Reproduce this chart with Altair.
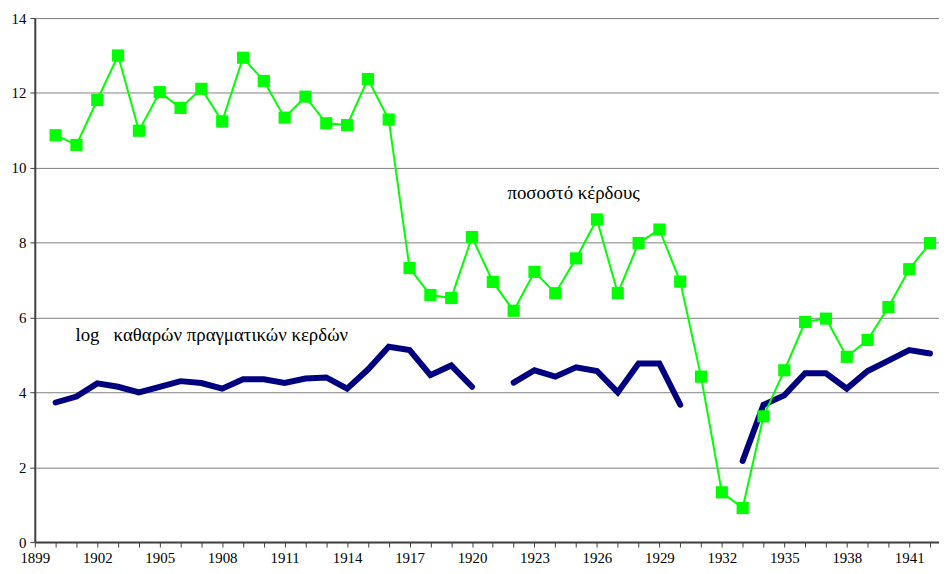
import altair as alt
import pandas as pd

years = list(range(1900, 1943))

profit_rate = [10.87, 10.61, 11.81, 13.0, 10.99, 12.02, 11.6, 12.11, 11.24, 12.94,
               12.32, 11.34, 11.9, 11.19, 11.14, 12.37, 11.29, 7.32, 6.6, 6.52,
               8.15, 6.95, 6.18, 7.22, 6.65, 7.58, 8.62, 6.65, 7.99, 8.35,
               6.96, 4.42, 1.33, 0.91, 3.36, 4.59, 5.88, 5.97, 4.95, 5.40,
               6.28, 7.29, 7.99]

log_profits = [3.73, 3.89, 4.24, 4.15, 4.0, 4.15, 4.30, 4.25, 4.10, 4.35,
               4.35, 4.25, 4.37, 4.40, 4.10, 4.61, 5.22, 5.13, 4.46, 4.72,
               4.15, None, 4.26, 4.59, 4.42, 4.67, 4.57, 4.0, 4.77, 4.77,
               3.67, None, None, 2.17, 3.67, 3.92, 4.51, 4.51, 4.10, 4.57,
               4.85, 5.13, 5.04]

label_texts = ["ποσοστό κέρδους", "log\u00a0\u00a0 καθαρών πραγματικών κερδών"]
label_x = [1921.7, 1900.95]
label_y = [9.33, 5.54]

tick_years = list(range(1899, 1943))
label_years = list(range(1899, 1943, 3))
y_ticks = [0, 2, 4, 6, 8, 10, 12, 14]

# segment ids for the blue series (breaks at missing values)
seg_rows = []
seg = 0
prev_missing = False
for yr, v in zip(years, log_profits):
    if v is None:
        prev_missing = True
        continue
    if prev_missing:
        seg += 1
        prev_missing = False
    seg_rows.append({"year": yr, "value": v, "seg": seg})
blue_df = pd.DataFrame(seg_rows)
green_df = pd.DataFrame({"year": years, "value": profit_rate})
text_df = pd.DataFrame({"x": label_x, "y": label_y, "t": label_texts})

FONT = "'Liberation Serif', 'Times New Roman', serif"

x_scale = alt.Scale(domain=[1899, 1942.43], nice=False, zero=False)
y_scale = alt.Scale(domain=[0, 14], nice=False)

x_axis_labels = alt.Axis(values=label_years, format="d", orient="bottom",
                         title=None, grid=False, ticks=False, domain=True,
                         labelPadding=9, domainColor="#404040", domainWidth=2,
                         labelFont=FONT, labelFontSize=15, labelColor="black",
                         labelOverlap=False, labelFlush=False)
x_axis_ticks = alt.Axis(values=tick_years, orient="bottom", title=None,
                        grid=False, labels=False, domain=False, tickSize=5,
                        tickColor="#404040", tickWidth=1)
y_axis = alt.Axis(values=y_ticks, title=None, grid=True, gridColor="#808080",
                  gridWidth=1, tickSize=5, labelPadding=4,
                  domainColor="#404040", tickColor="#404040", domainWidth=2,
                  labelFont=FONT, labelFontSize=15, labelColor="black")

blue = alt.Chart(blue_df).mark_line(color="#000080", strokeWidth=6,
                                    strokeJoin="miter", strokeCap="round").encode(
    x=alt.X("year:Q", scale=x_scale, axis=x_axis_labels),
    y=alt.Y("value:Q", scale=y_scale, axis=y_axis),
    detail="seg:N",
)

green_line = alt.Chart(green_df).mark_line(color="#00FF00", strokeWidth=2).encode(
    x=alt.X("year:Q", scale=x_scale, axis=x_axis_ticks),
    y=alt.Y("value:Q", scale=y_scale, axis=y_axis),
)
green_pts = alt.Chart(green_df).mark_square(color="#00FF00", size=150, opacity=1).encode(
    x=alt.X("year:Q", scale=x_scale, axis=None),
    y=alt.Y("value:Q", scale=y_scale, axis=y_axis),
)

texts = alt.Chart(text_df).mark_text(align="left", baseline="middle", font=FONT,
                                     fontSize=19, color="black").encode(
    x=alt.X("x:Q", scale=x_scale, axis=None),
    y=alt.Y("y:Q", scale=y_scale, axis=y_axis),
    text="t:N",
)

chart = alt.layer(blue, green_line, green_pts, texts).resolve_axis(
    x="independent"
).properties(
    width=911, height=528,
    autosize=alt.AutoSizeParams(type="none"),
    padding={"left": 27, "top": 8, "right": 0, "bottom": 30},
).configure_view(stroke=None).configure(background="white")

chart.save("out.html", embed_options={"renderer": "svg", "actions": False})
